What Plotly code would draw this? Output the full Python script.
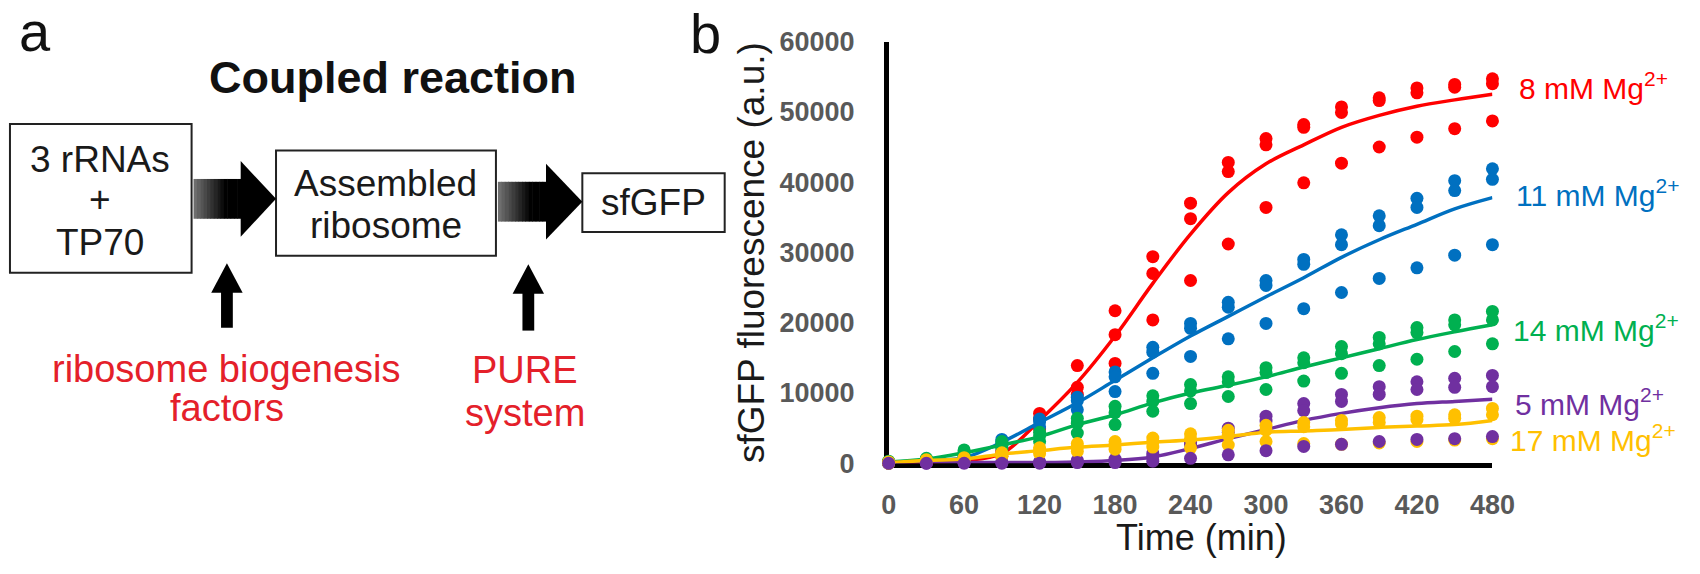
import plotly.graph_objects as go

W, H = 1700, 574

# sampling times (min)
time_min = [0, 30, 60, 90, 120, 150, 180, 210, 240, 270, 300, 330, 360, 390, 420, 450, 480]

# sfGFP fluorescence, three replicates + mean, per Mg2+ concentration
mg8_r1 = [200, 300, 500, 1800, 7100, 13900, 21700, 29400, 37000, 42800, 46200, 48200, 50700, 52000, 53400, 53900, 54700]
mg8_r2 = [100, 200, 400, 1500, 6300, 10800, 18300, 27000, 34800, 41500, 45300, 47800, 49900, 51600, 52700, 53500, 54000]
mg8_r3 = [0, 100, 200, 1000, 4900, 9800, 14200, 20400, 26000, 31200, 36400, 39900, 42700, 45000, 46400, 47600, 48700]
mg8_mean = [100, 200, 400, 1400, 6100, 11500, 18100, 25600, 32600, 38500, 42600, 45300, 47800, 49500, 50800, 51700, 52500]

mg11_r1 = [200, 500, 1000, 3400, 6300, 9400, 13000, 16500, 19900, 22900, 26000, 29000, 32500, 35200, 37700, 40200, 41900]
mg11_r2 = [100, 400, 800, 3000, 5900, 8900, 12300, 15800, 19200, 22200, 25300, 28300, 31100, 33800, 36400, 38800, 40400]
mg11_r3 = [0, 300, 600, 2500, 5200, 7600, 10200, 12800, 15200, 17700, 19900, 22000, 24300, 26300, 27800, 29600, 31100]
mg11_mean = [100, 400, 800, 3000, 5800, 8600, 11800, 15000, 18100, 20900, 23700, 26400, 29300, 31800, 34000, 36200, 37800]

mg14_r1 = [300, 700, 1900, 3100, 4400, 6400, 8100, 9600, 11200, 12300, 13600, 15000, 16600, 17900, 19300, 20400, 21600]
mg14_r2 = [200, 600, 1600, 2600, 3900, 5700, 7200, 8800, 10300, 11600, 12900, 14300, 15600, 17000, 18600, 19700, 20400]
mg14_r3 = [100, 400, 1100, 2100, 3100, 4300, 5500, 7400, 8500, 9500, 10500, 11700, 12800, 13900, 14800, 15900, 17000]
mg14_mean = [200, 600, 1500, 2600, 3800, 5500, 6900, 8600, 10000, 11100, 12300, 13700, 15000, 16300, 17600, 18700, 19700]

mg5_r1 = [100, 100, 100, 200, 200, 400, 600, 1400, 3000, 5000, 6700, 8500, 9800, 10900, 11600, 12100, 12500]
mg5_r2 = [0, 0, 100, 100, 100, 200, 400, 1000, 2600, 4400, 6000, 7500, 8800, 9800, 10500, 10800, 10900]
mg5_r3 = [0, 0, 0, 0, 0, 100, 100, 300, 700, 1200, 1800, 2400, 2700, 3100, 3400, 3500, 3800]
mg5_mean = [0, 0, 100, 100, 100, 200, 400, 900, 2100, 3500, 4800, 6100, 7100, 7900, 8500, 8800, 9100]

mg17_r1 = [200, 500, 800, 1500, 2200, 2800, 3100, 3600, 4200, 4700, 5400, 5800, 6100, 6500, 6700, 6900, 7800]
mg17_r2 = [100, 400, 600, 1300, 1900, 2300, 2600, 3000, 3500, 4000, 4700, 5200, 5600, 5800, 6200, 6400, 6900]
mg17_r3 = [0, 300, 500, 1000, 1400, 1700, 2000, 2300, 2200, 2600, 3100, 2800, 2700, 2900, 3100, 3300, 3500]
mg17_mean = [100, 400, 600, 1300, 1800, 2300, 2600, 3000, 3300, 3800, 4400, 4600, 4800, 5100, 5300, 5500, 6100]

x_ticks = [0, 60, 120, 180, 240, 300, 360, 420, 480]
y_ticks = [0, 10000, 20000, 30000, 40000, 50000, 60000]

RED, BLUE, GREEN, PURPLE, YELLOW = "#FF0000", "#0070C0", "#00B050", "#7030A0", "#FFC000"
FONT = "Liberation Sans, Arial, sans-serif"


def X(px):
    return px / W


def Y(py):
    return 1 - py / H


fig = go.Figure()


def add_dots(reps, color):
    xs, ys = [], []
    for r in reps:
        xs += time_min
        ys += r
    fig.add_trace(go.Scatter(x=xs, y=ys, mode="markers", cliponaxis=False,
                             marker=dict(size=13, color=color), showlegend=False, hoverinfo="skip"))


def add_line(mean, color):
    fig.add_trace(go.Scatter(x=time_min, y=mean, mode="lines", cliponaxis=False,
                             line=dict(color=color, width=3.5, shape="spline", smoothing=1.0),
                             showlegend=False))


add_dots([mg8_r1, mg8_r2, mg8_r3], RED)
add_line(mg8_mean, RED)
add_dots([mg11_r1, mg11_r2, mg11_r3], BLUE)
add_line(mg11_mean, BLUE)
add_dots([mg14_r1, mg14_r2, mg14_r3], GREEN)
add_line(mg14_mean, GREEN)
add_dots([mg5_r1, mg5_r2], PURPLE)
add_line(mg5_mean, PURPLE)
add_dots([mg17_r1, mg17_r2, mg17_r3], YELLOW)
add_line(mg17_mean, YELLOW)
add_dots([mg5_r3], PURPLE)

tick_font = dict(family=FONT, size=27, color="#595959", weight="bold")
fig.update_xaxes(domain=[X(897), X(1512)], range=[0, 480], tickvals=x_ticks, tickformat="d",
                 showgrid=False, zeroline=False, showline=True, linecolor="black", linewidth=4.5,
                 ticks="", tickfont=tick_font, ticklabelstandoff=14, layer="below traces")
fig.update_yaxes(domain=[Y(473), Y(28)], range=[0, 60000], tickvals=y_ticks, tickformat="d",
                 showgrid=False, zeroline=False, showline=True, linecolor="black", linewidth=4.5,
                 ticks="", tickfont=tick_font, ticklabelstandoff=24, layer="below traces")

ann = []


def text(px, py, s, size, color="#1a1a1a", bold=False, xanchor="center", angle=0):
    ann.append(dict(x=X(px), y=Y(py), xref="paper", yref="paper", text=s, showarrow=False,
                    xanchor=xanchor, yanchor="middle", textangle=angle,
                    font=dict(family=FONT, size=size, color=color, weight="bold" if bold else "normal")))


# axis titles
text(1216, 551, "Time (min)", 36)
text(758, 251, "sfGFP fluorescence (a.u.)", 37, angle=-90)

# series labels
text(1537, 75, "8 mM Mg<sup>2+</sup>", 30, RED, xanchor="left")
text(1534, 188, "11 mM Mg<sup>2+</sup>", 30, BLUE, xanchor="left")
text(1531, 330, "14 mM Mg<sup>2+</sup>", 30, GREEN, xanchor="left")
text(1533, 408, "5 mM Mg<sup>2+</sup>", 30, PURPLE, xanchor="left")
text(1528, 446, "17 mM Mg<sup>2+</sup>", 30, YELLOW, xanchor="left")

# panel letters
text(28, 17, "a", 56, "#111111")
text(710, 20, "b", 56, "#111111")

# diagram (panel a)
text(392, 66, "Coupled reaction", 45, "#111111", bold=True)

shapes = []


def box(x0, y0, x1, y1):
    shapes.append(dict(type="rect", xref="paper", yref="paper", x0=X(x0), x1=X(x1), y0=Y(y1), y1=Y(y0),
                       line=dict(color="#222222", width=2), fillcolor="white"))


def right_arrow(x0, xh, xt, yc, body_half, head_half):
    n = 14
    seg = (xh - x0) / n
    for i in range(n):
        g = int(110 * max(0.0, 1 - i / (n * 0.65)))
        shapes.append(dict(type="rect", xref="paper", yref="paper",
                           x0=X(x0 + i * seg), x1=X(x0 + (i + 1) * seg + 0.6),
                           y0=Y(yc + body_half), y1=Y(yc - body_half),
                           line=dict(width=0), fillcolor=f"rgb({g},{g},{g})"))
    shapes.append(dict(type="path", xref="paper", yref="paper",
                       path=f"M {X(xh)},{Y(yc - head_half)} L {X(xt)},{Y(yc)} L {X(xh)},{Y(yc + head_half)} Z",
                       line=dict(width=0), fillcolor="black"))


def up_arrow(xc, y_tip, y_bottom):
    shapes.append(dict(type="rect", xref="paper", yref="paper", x0=X(xc - 6), x1=X(xc + 6),
                       y0=Y(y_bottom), y1=Y(y_tip + 28), line=dict(width=0), fillcolor="black"))
    shapes.append(dict(type="path", xref="paper", yref="paper",
                       path=f"M {X(xc - 16)},{Y(y_tip + 31)} L {X(xc)},{Y(y_tip)} L {X(xc + 16)},{Y(y_tip + 31)} Z",
                       line=dict(width=0), fillcolor="black"))


box(2, 115, 187, 272)
box(273, 143, 497, 254)
box(585, 167, 730, 229)
right_arrow(189, 237, 273, 194, 21, 40)
right_arrow(499, 548, 585, 197, 21, 40)
up_arrow(223, 262, 330)
up_arrow(530, 263, 333)

text(94, 152, "3 rRNAs", 37)
text(94, 195, "+", 37)
text(94, 240, "TP70", 37)
text(385, 178, "Assembled", 37)
text(385, 222, "ribosome", 37)
text(657, 198, "sfGFP", 37)

DIAG_RED = "#E4202A"
text(223, 373, "ribosome biogenesis", 38, DIAG_RED)
text(223, 415, "factors", 38, DIAG_RED)
text(527, 375, "PURE", 38, DIAG_RED)
text(527, 420, "system", 38, DIAG_RED)

fig.update_layout(width=W, height=H, margin=dict(l=0, r=0, t=0, b=0),
                  paper_bgcolor="white", plot_bgcolor="white",
                  showlegend=False, annotations=ann, shapes=shapes)

# drop the browser's default 8px page margin so the figure sits at the window origin
fig.write_html("out.html", config={"displayModeBar": False},
               post_script="document.body.style.margin='0';")
